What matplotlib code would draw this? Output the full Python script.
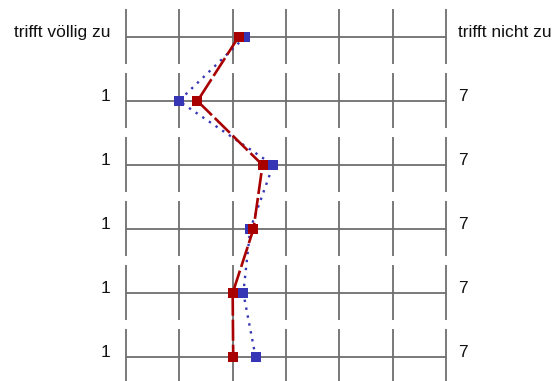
import matplotlib
matplotlib.use('agg')
import matplotlib.pyplot as plt
import numpy as np

plt.rcParams['font.family'] = ['Liberation Sans', 'DejaVu Sans']

# one row per item, scale 1 (trifft völlig zu) .. 7 (trifft nicht zu)
left_labels = ['trifft völlig zu', '1', '1', '1', '1', '1']
right_labels = ['trifft nicht zu', '7', '7', '7', '7', '7']
scale = [1, 2, 3, 4, 5, 6, 7]
red_vals = [3.11, 2.34, 3.56, 3.39, 3.00, 3.01]
blue_vals = [3.23, 1.99, 3.76, 3.33, 3.20, 3.43]

W, H = 559, 381
fig = plt.figure(figsize=(W / 100, H / 100), dpi=100)
# axes spans from value 1 (x=126px) to 7 (x=446px), row 0 (y=37px) to row 5 (y=357px)
ax = fig.add_axes([126 / W, (H - 357) / H, 320 / W, 320 / H])
ax.set_xlim(1, 7)
ax.set_ylim(5, 0)
ax.axis('off')

rows = np.arange(len(red_vals))
grid_c = '#6e6e6e'
for r in rows:
    ax.hlines(r, 1, 7, color=grid_c, lw=1.3, clip_on=False)
    ax.vlines(scale, r - 28 / 64, r + 27 / 64, color=grid_c, lw=1.3, clip_on=False)
    ax.text(0.71, r, left_labels[r], ha='right', va='baseline', fontsize=12.5, color='#111111')
    ax.text(7.22, r, right_labels[r], ha='left', va='baseline', fontsize=12.5, color='#111111')

ax.plot(blue_vals, rows, color='#3535b5', lw=1.7, linestyle=(0, (1, 2.4)),
        marker='s', markersize=7, markeredgewidth=0, clip_on=False, zorder=3)
ax.plot(red_vals, rows, color='#a80000', lw=1.9, linestyle=(0, (8, 1.5)),
        marker='s', markersize=7, markeredgewidth=0, clip_on=False, zorder=4)

plt.savefig('out.png', dpi=100)
